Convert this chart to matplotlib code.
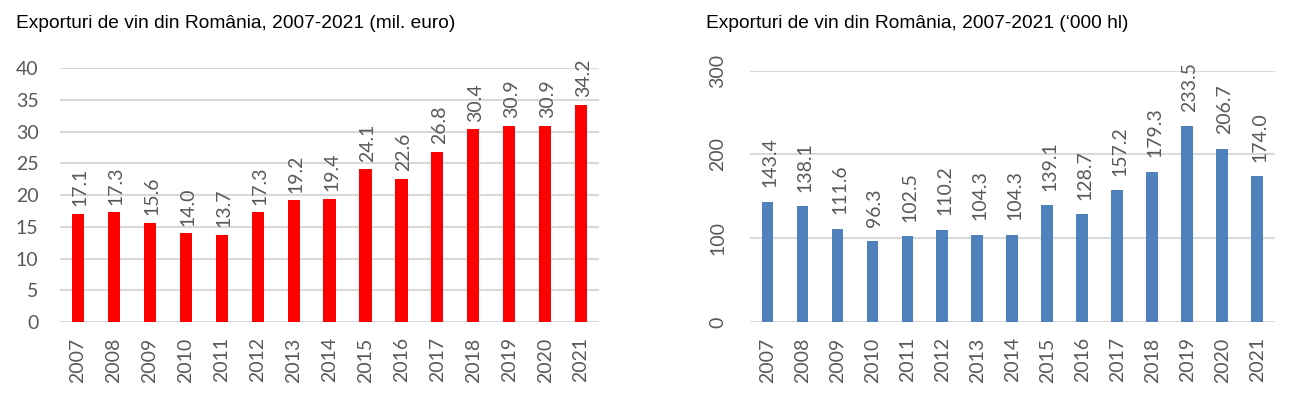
import matplotlib.pyplot as plt

years = [str(y) for y in range(2007, 2022)]
export_eur = [17.1, 17.3, 15.6, 14.0, 13.7, 17.3, 19.2, 19.4, 24.1, 22.6, 26.8, 30.4, 30.9, 30.9, 34.2]
export_hl = [143.4, 138.1, 111.6, 96.3, 102.5, 110.2, 104.3, 104.3, 139.1, 128.7, 157.2, 179.3, 233.5, 206.7, 174.0]

title_left = "Exporturi de vin din România, 2007-2021 (mil. euro)"
title_right = "Exporturi de vin din România, 2007-2021 (\u2018000 hl)"

GRAY = '#595959'
GRID = '#d9d9d9'
NUM_FONT = 'Lato'
TITLE_FONT = 'Liberation Sans'

fig = plt.figure(figsize=(13, 3.99), dpi=100)
ax1 = fig.add_axes([0.0462, 0.193, 0.4146, 0.6358])
ax2 = fig.add_axes([0.5769, 0.193, 0.4038, 0.6298])


def draw_panel(ax, values, color, ymax, step, label_gap, ypad, rotate_yticks):
    x = range(len(years))
    ax.bar(x, values, width=0.34, color=color, zorder=3)
    ax.set_ylim(0, ymax)
    ax.set_xlim(-0.5, len(years) - 0.5)
    ax.set_yticks(range(0, ymax + 1, step))
    ax.set_xticks(list(x))
    ax.set_xticklabels(years, rotation=90, fontsize=14, color=GRAY, family=NUM_FONT)
    for lab in ax.get_yticklabels():
        lab.set_fontsize(14)
        lab.set_color(GRAY)
        lab.set_family(NUM_FONT)
        if rotate_yticks:
            lab.set_rotation(90)
            lab.set_va('center')
    ax.tick_params(axis='x', length=0, pad=11)
    ax.tick_params(axis='y', length=0, pad=ypad)
    ax.grid(axis='y', color=GRID, linewidth=1.5, zorder=0)
    for s in ax.spines.values():
        s.set_visible(False)
    # value labels above the bars
    for xi, v in zip(x, values):
        ax.annotate(f"{v:.1f}", (xi, v), xytext=(1.5, label_gap), textcoords='offset points',
                    rotation=90, ha='center', va='bottom',
                    fontsize=14, color=GRAY, family=NUM_FONT)


draw_panel(ax1, export_eur, '#ff0000', 40, 5, 5.5, 15.5, False)
draw_panel(ax2, export_hl, '#4f81bd', 300, 100, 10.5, 17, True)

fig.text(0.012, 0.929, title_left, fontsize=13.8, family=TITLE_FONT, color='black', va='baseline')
fig.text(0.543, 0.929, title_right, fontsize=13.8, family=TITLE_FONT, color='black', va='baseline')

fig.savefig('out.png', dpi=100)
